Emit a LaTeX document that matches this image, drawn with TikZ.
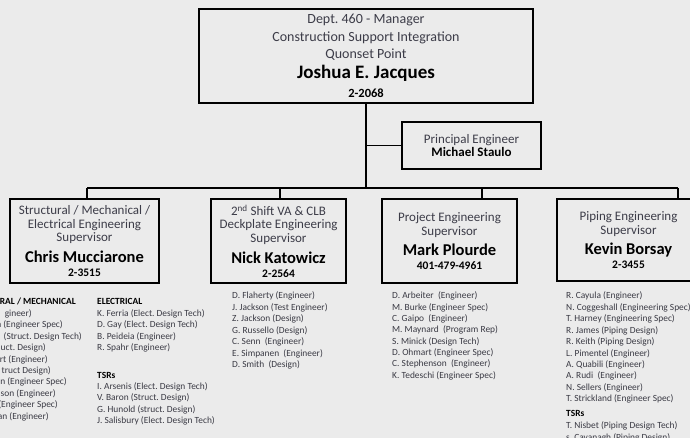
\documentclass[tikz,border=0pt]{standalone}
\usepackage{fontspec}
\setmainfont{Carlito}
\frenchspacing
\definecolor{bg}{HTML}{EBEBEB}
\definecolor{ttl}{HTML}{3C3C48}
\definecolor{lstc}{HTML}{3A3A44}
\newcommand\nm[2]{{\fontsize{#1}{#1}\selectfont\bfseries\color{black}#2}}
\tikzset{
  box/.style={draw=black, line width=1.3bp, fill=bg, inner sep=0pt, align=center, text=ttl},
  mgrbox/.style={box, minimum width=334bp, minimum height=94bp, font=\fontsize{14bp}{17.5bp}\selectfont},
  supbox/.style={box, minimum height=84bp, font=\fontsize{13bp}{13.5bp}\selectfont},
  lst/.style={inner sep=0pt, anchor=base west, text=lstc, font=\fontsize{9.4bp}{11.4bp}\selectfont},
  lstr/.style={lst, anchor=base east},
  hd/.style={lst, text=black, font=\fontsize{9.4bp}{11.4bp}\selectfont\bfseries},
  conn/.style={draw=black, line width=1.3bp},
}
\begin{document}
\begin{tikzpicture}[x=1bp,y=-1bp]
\path[use as bounding box] (0,0) rectangle (690,438);
\clip (0,0) rectangle (690,438);
\fill[bg] (0,0) rectangle (690,438);
% boxes
\node[mgrbox] (mgr) at (366,56) {Dept. 460 - Manager\\Construction Support Integration\\Quonset Point\\[2.5bp]\nm{19bp}{Joshua E. Jacques}\\[1bp]\nm{12.5bp}{2-2068}};
\node[box, minimum width=139bp, minimum height=47bp, font=\fontsize{13bp}{13.5bp}\selectfont] (pe) at (471.5,145.5) {Principal Engineer\\\nm{13bp}{Michael Staulo}};
\coordinate (b1) at (87,188);
\coordinate (b2) at (280,188);
\coordinate (b3) at (482,188);
\coordinate (b4) at (678,188);
\node[supbox, minimum width=149bp] (s1) at (84.5,241) {Structural / Mechanical /\\Electrical Engineering\\Supervisor\\[6bp]\nm{16.5bp}{Chris Mucciarone}\\[0.5bp]\nm{11.5bp}{2-3515}};
\node[supbox, minimum width=135bp] (s2) at (278.5,241) {2\textsuperscript{nd} Shift VA \& CLB\\Deckplate Engineering\\Supervisor\\[6bp]\nm{16.5bp}{Nick Katowicz}\\[0.5bp]\nm{11.5bp}{2-2564}};
\node[supbox, minimum width=135bp] (s3) at (449.5,241) {Project Engineering\\Supervisor\\[5bp]\nm{16.5bp}{Mark Plourde}\\[0.5bp]\nm{11.5bp}{401-479-4961}};
\node[supbox, minimum width=143bp, minimum height=82bp] (s4) at (628.5,240) {Piping Engineering\\Supervisor\\[5bp]\nm{16.5bp}{Kevin Borsay}\\[0.5bp]\nm{11.5bp}{2-3455}};
% connectors
\draw[conn] (mgr.south) -- (mgr.south |- b1);
\draw[conn] (pe.west) -- (pe.west -| mgr.south);
\draw[conn] (b1) -- (b4);
\foreach \k in {1,...,4} \draw[conn] (b\k) -- (b\k |- s\k.north);
% column 1 (cut at left edge)
\node[hd, anchor=base east] (c1-1) at (76,305) {RAL / MECHANICAL};
\node[lstr] (c1-2) at (32,316.4) {gineer)};
\node[lstr] (c1-3) at (63,327.8) {n (Engineer Spec)};
\node[lstr] (c1-4) at (82,339.2) {(Struct. Design Tech)};
\node[lstr] (c1-5) at (46,350.6) {uct. Design)};
\node[lstr] (c1-6) at (48,362) {rt (Engineer)};
\node[lstr] (c1-7) at (51,373.4) {truct Design)};
\node[lstr] (c1-8) at (67,384.8) {n (Engineer Spec)};
\node[lstr] (c1-9) at (56,396.2) {son (Engineer)};
\node[lstr] (c1-10) at (58,407.6) {(Engineer Spec)};
\node[lstr] (c1-11) at (49,419) {an (Engineer)};
% column 2
\node[hd] (c2-h) at (97,305) {ELECTRICAL};
\foreach \t [count=\i] in {K. Ferria (Elect. Design Tech), D. Gay (Elect. Design Tech), B. Peideia (Engineer), R. Spahr (Engineer)}
  \node[lst] (c2-\i) at (97,{305+11.4*\i}) {\t};
\node[hd] (c2-t) at (97,378) {TSRs};
\foreach \t [count=\i] in {I. Arsenis (Elect. Design Tech), V. Baron (Struct. Design), G. Hunold (struct. Design), J. Salisbury (Elect. Design Tech)}
  \node[lst] (c2t-\i) at (97,{378+11.4*\i}) {\t};
% column 3
\foreach \t [count=\i] in {D. Flaherty (Engineer), J. Jackson (Test Engineer), Z. Jackson (Design), G. Russello (Design), C. Senn\ \ (Engineer), E. Simpanen\ \ (Engineer), D. Smith\ \ (Design)}
  \node[lst] (c3-\i) at (232,{299+11.4*(\i-1)}) {\t};
% column 4
\foreach \t [count=\i] in {D. Arbeiter\ \ (Engineer), M. Burke (Engineer Spec), C. Gaipo\ \ (Engineer), M. Maynard\ \ (Program Rep), S. Minick (Design Tech), D. Ohmart (Engineer Spec), C. Stephenson\ \ (Engineer), K. Tedeschi (Engineer Spec)}
  \node[lst] (c4-\i) at (392,{299+11.3*(\i-1)}) {\t};
% column 5
\foreach \t [count=\i] in {R. Cayula (Engineer), N. Coggeshall (Engineering Spec), T. Harney (Engineering Spec), R. James (Piping Design), R. Keith (Piping Design), L. Pimentel (Engineer), A. Quabili (Engineer), A. Rudi\ \ (Engineer), N. Sellers (Engineer), T. Strickland (Engineer Spec)}
  \node[lst] (c5-\i) at (566,{299+11.4*(\i-1)}) {\t};
\node[hd] (c5-t) at (566,416) {TSRs};
\node[lst] (c5t-1) at (566,428) {T. Nisbet (Piping Design Tech)};
\node[lst] (c5t-2) at (566,440) {s. Cavanagh (Piping Design)};
\end{tikzpicture}
\end{document}
